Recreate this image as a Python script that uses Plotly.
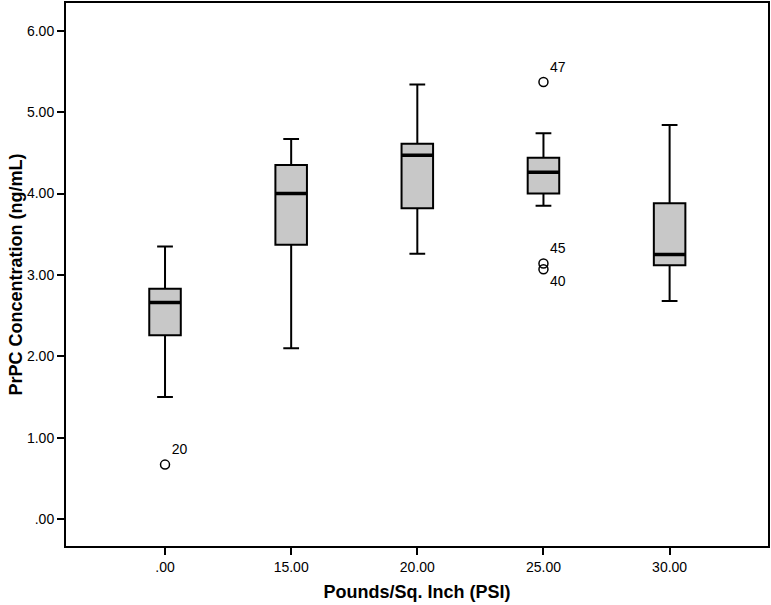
import plotly.graph_objects as go

# PSI groups (category labels) and box statistics
psi_labels = [".00", "15.00", "20.00", "25.00", "30.00"]
lower_whisker = [1.50, 2.10, 3.26, 3.85, 2.68]
q1 = [2.26, 3.37, 3.82, 4.00, 3.12]
median = [2.66, 4.00, 4.47, 4.26, 3.25]
q3 = [2.83, 4.35, 4.61, 4.44, 3.88]
upper_whisker = [3.35, 4.67, 5.34, 4.74, 4.84]

# outliers: group index, value, case label
outlier_group = [0, 3, 3, 3]
outlier_value = [0.67, 5.37, 3.14, 3.07]
outlier_label = ["20", "47", "45", "40"]
outlier_textpos = ["top right", "top right", "top right", "bottom right"]

y_ticks = [0, 1, 2, 3, 4, 5, 6]
y_ticktext = [".00", "1.00", "2.00", "3.00", "4.00", "5.00", "6.00"]

font_family = "Arial, Liberation Sans, sans-serif"
xs = list(range(len(psi_labels)))

fig = go.Figure()

fig.add_trace(go.Box(
    x=xs, q1=q1, median=median, q3=q3,
    lowerfence=lower_whisker, upperfence=upper_whisker,
    fillcolor='#C8C8C8', line=dict(color='black', width=2),
    width=0.25, whiskerwidth=0.5, boxpoints=False,
    hoverinfo='skip', showlegend=False
))

# thicker median line, as SPSS draws it
fig.add_trace(go.Box(
    x=xs, q1=median, median=median, q3=median,
    lowerfence=median, upperfence=median,
    fillcolor='black', line=dict(color='black', width=3.5),
    width=0.25, whiskerwidth=0, boxpoints=False,
    hoverinfo='skip', showlegend=False
))

fig.add_trace(go.Scatter(
    x=outlier_group, y=outlier_value, mode='markers+text',
    marker=dict(symbol='circle-open', size=9, color='black', line=dict(width=1.5)),
    text=outlier_label, textposition=outlier_textpos,
    textfont=dict(family=font_family, size=14, color='black'),
    hoverinfo='skip', showlegend=False
))

fig.update_layout(
    width=771, height=605,
    boxmode='overlay',
    plot_bgcolor='white', paper_bgcolor='white',
    margin=dict(l=66, r=3, t=1, b=59),
    font=dict(family=font_family, size=14, color='black'),
    showlegend=False
)
fig.update_xaxes(
    range=[-0.785, 4.78], tickvals=xs, ticktext=psi_labels,
    showgrid=False, zeroline=False,
    showline=True, linecolor='black', linewidth=2, mirror=True,
    ticks='outside', ticklen=7, tickwidth=2, tickcolor='black',
    tickfont=dict(size=14),
    title=dict(text="<b>Pounds/Sq. Inch (PSI)</b>", font=dict(size=18), standoff=12)
)
fig.update_yaxes(
    range=[-0.33, 6.34], tickvals=y_ticks, ticktext=y_ticktext,
    showgrid=False, zeroline=False,
    showline=True, linecolor='black', linewidth=2, mirror=True,
    ticks='outside', ticklen=7, tickwidth=2, tickcolor='black',
    tickfont=dict(size=14),
    title=dict(text="<b>PrPC Concentration (ng/mL)</b>", font=dict(size=18), standoff=0)
)

fig.write_html("out.html", config={'displayModeBar': False},
               post_script="document.body.style.margin='0';")
